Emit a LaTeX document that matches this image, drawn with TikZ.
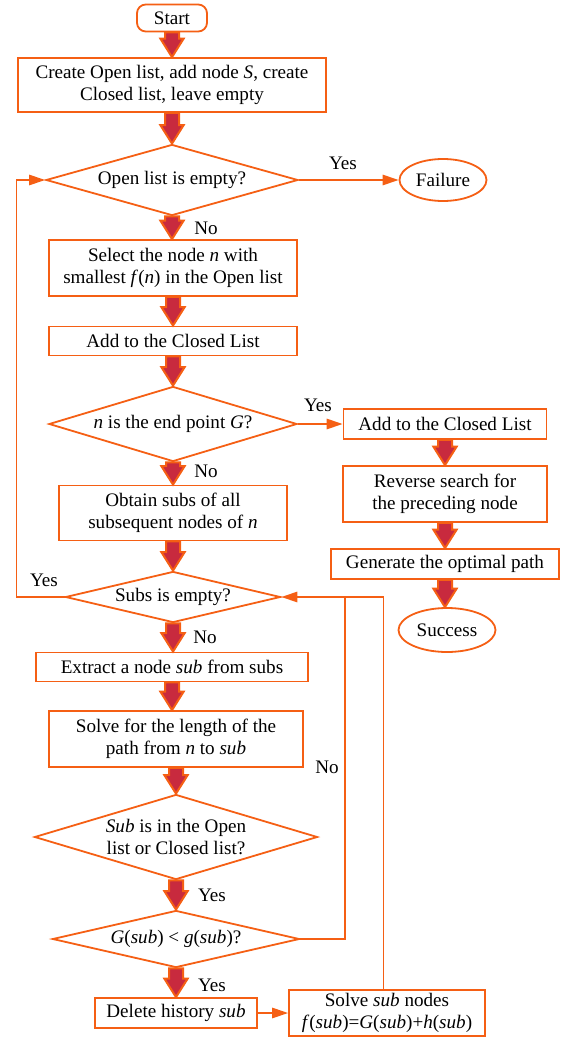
\documentclass[tikz,border=0pt]{standalone}
\usepackage{fontspec}
\setmainfont{Liberation Serif}
\usetikzlibrary{shapes.geometric, arrows.meta, calc}

\definecolor{flowline}{RGB}{245,95,20}
\definecolor{flowfill}{RGB}{200,42,62}

\begin{document}
\begin{tikzpicture}[x=0.25mm, y=-0.25mm,
    font=\fontsize{13.6}{15.6}\selectfont,
    every node/.style={align=center, inner sep=1pt},
    term/.style={rectangle, rounded corners=2.2mm, draw=flowline, line width=0.45mm, fill=white},
    oval/.style={ellipse, draw=flowline, line width=0.45mm, fill=white, inner sep=0pt},
    proc/.style={rectangle, draw=flowline, line width=0.45mm, fill=white, inner sep=0pt},
    test/.style={diamond, aspect=3.5, draw=flowline, line width=0.45mm, fill=white, inner sep=0pt},
    line/.style={draw=flowline, line width=0.45mm, -{Triangle[length=4mm, width=2.6mm]}},
    plain/.style={draw=flowline, line width=0.45mm},
    fat/.style={draw=flowline, fill=flowfill, line width=0.5mm, line join=miter,
        to path={let \p1=(\tikztostart), \p2=(\tikztotarget) in
            (\x1-1.75mm,\y1) -- (\x1+1.75mm,\y1) -- (\x1+1.75mm,\y2+4.6mm)
            -- (\x1+2.9mm,\y2+4.6mm) -- (\x1,\y2) -- (\x1-2.9mm,\y2+4.6mm)
            -- (\x1-1.75mm,\y2+4.6mm) -- cycle}}]
    \useasboundingbox (0,0) rectangle (561,1040);

    % left column
    \node[term, minimum width=17.5mm, minimum height=6.75mm] (start) at (172,18) {Start};
    \node[proc, minimum width=77mm, minimum height=13.5mm] (init) at (172,85)
        {Create Open list, add node \textit{S}, create\\Closed list, leave empty};
    \node[test, minimum width=63mm, minimum height=17.75mm] (openempty) at (172,180) {Open list is empty?};
    \node[oval, minimum width=21.75mm, minimum height=10.5mm] (failure) at (443,180) {Failure};
    \node[proc, minimum width=62mm, minimum height=14mm] (select) at (173,268)
        {Select the node \textit{n} with\\smallest \textit{f}(\textit{n}) in the Open list};
    \node[proc, minimum width=62mm, minimum height=7.25mm] (toclosed) at (173,341) {Add to the Closed List};
    \node[test, minimum width=62mm, minimum height=18.75mm] (isgoal) at (173,424) {\textit{n} is the end point \textit{G}?};
    \node[proc, minimum width=57mm, minimum height=13.75mm] (obtain) at (173,513)
        {Obtain subs of all\\subsequent nodes of \textit{n}};
    \node[test, minimum width=53.75mm, minimum height=12.75mm] (subsempty) at (173,597) {Subs is empty?};
    \node[proc, minimum width=68mm, minimum height=7.25mm] (extract) at (172,667)
        {Extract a node \textit{sub} from subs};
    \node[proc, minimum width=63.5mm, minimum height=14mm] (length) at (176,739)
        {Solve for the length of the\\path from \textit{n} to \textit{sub}};
    \node[test, minimum width=70.75mm, minimum height=21.25mm] (inlist) at (176,837)
        {\textit{Sub} is in the Open\\list or Closed list?};
    \node[test, minimum width=61.75mm, minimum height=14.25mm] (compare) at (176,939)
        {\textit{G}(\textit{sub}) < \textit{g}(\textit{sub})?};
    \node[proc, minimum width=40.5mm, minimum height=7.5mm] (delete) at (176,1013) {Delete history \textit{sub}};
    \node[proc, minimum width=49mm, minimum height=11.5mm] (update) at (387,1013)
        {Solve \textit{sub} nodes\\\textit{f}(\textit{sub})=\textit{G}(\textit{sub})+\textit{h}(\textit{sub})};

    % right column
    \node[proc, minimum width=50.75mm, minimum height=7.5mm] (addgoal) at (445,424) {Add to the Closed List};
    \node[proc, minimum width=51mm, minimum height=14mm] (reverse) at (445,494)
        {Reverse search for\\the preceding node};
    \node[proc, minimum width=57mm, minimum height=7.5mm] (genpath) at (445,564) {Generate the optimal path};
    \node[oval, minimum width=24.25mm, minimum height=11mm] (success) at (447,630) {Success};

    % labels
    \node (yesfail) at (343,163) {Yes};
    \node (noopen) at (206,228) {No};
    \node (yesgoal) at (318,405) {Yes};
    \node (nogoal) at (206,471) {No};
    \node (yessubs) at (44,580) {Yes};
    \node (nosubs) at (205,637) {No};
    \node (nocompare) at (327,767) {No};
    \node (yesinlist) at (212,895) {Yes};
    \node (yescompare) at (212,985) {Yes};

    \coordinate (join) at (345,597);

    % block arrows
    \draw[fat] (start.south) to (init.north);
    \draw[fat] (init.south) to (openempty.north);
    \draw[fat] (openempty.south) to (select.north);
    \draw[fat] (select.south) to (toclosed.north);
    \draw[fat] (toclosed.south) to (isgoal.north);
    \draw[fat] (isgoal.south) to (obtain.north);
    \draw[fat] (obtain.south) to (subsempty.north);
    \draw[fat] (subsempty.south) to (extract.north);
    \draw[fat] (extract.south) to (length.north);
    \draw[fat] (length.south) to (inlist.north);
    \draw[fat] (inlist.south) to (compare.north);
    \draw[fat] (compare.south) to (delete.north);
    \draw[fat] (addgoal.south) to (reverse.north);
    \draw[fat] (reverse.south) to (genpath.north);
    \draw[fat] (genpath.south) to (success.north);

    % thin connectors
    \draw[line] (openempty.east) -- (failure.west);
    \draw[line] (isgoal.east) -- (addgoal.west);
    \draw[line] (delete.east) -- (update.west);
    \draw[line] (subsempty.west) -- ++(-48,0) |- (openempty.west);
    \draw[line] ([xshift=-0.9mm]update.north) |- (subsempty.east);
    \draw[plain] (compare.east) -| (join);

\end{tikzpicture}
\end{document}
